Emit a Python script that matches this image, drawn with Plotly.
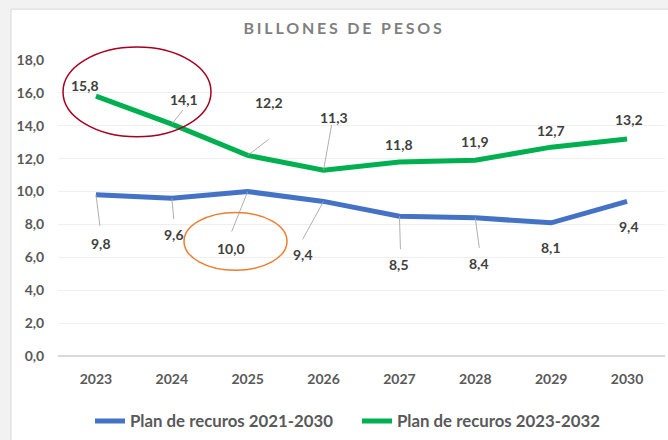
import plotly.graph_objects as go

# ---- data ----
years = ["2023", "2024", "2025", "2026", "2027", "2028", "2029", "2030"]
plan_2021_2030 = [9.8, 9.6, 10.0, 9.4, 8.5, 8.4, 8.1, 9.4]
plan_2023_2032 = [15.8, 14.1, 12.2, 11.3, 11.8, 11.9, 12.7, 13.2]
y_ticks = [0, 2, 4, 6, 8, 10, 12, 14, 16, 18]
y_tick_labels = ["0,0", "2,0", "4,0", "6,0", "8,0", "10,0", "12,0", "14,0", "16,0", "18,0"]
title_text = "BILLONES DE PESOS"
name_blue = "Plan de recuros 2021-2030"
name_green = "Plan de recuros 2023-2032"

BLUE = "#4472C4"
GREEN = "#00B050"
FONT = "Lato"
LABEL_COLOR = "#404040"
TICK_COLOR = "#595959"
LEADER = "#a6a6a6"

# plot-area geometry in pixels
L, R, T, B = 58, 3, 60, 83
W, H = 668, 440
PW, PH = W - L - R, H - T - B

def px2paper(px, py):
    return (px - L) / PW, (H - B - py) / PH

# label offsets (pixels) and leader line offsets (None = no leader)
green_lbl = [(-11, -11), (12, -25), (21, -53), (10, -53), (0, -17), (0, -19), (0, -17), (2, -19)]
green_lead = [None, (11, -14), (21, -16), (8, -45), None, None, None, None]
blue_lbl = [(5, 49), (2, 36), (-17, 57), (-21, 53), (0, 48), (4, 46), (0, 25), (2, 25)]
blue_lead = [(4, 31), (2, 21), (-16, 40), (-21, 38), (1, 33), (4, 30), None, None]

fig = go.Figure()
fig.add_trace(go.Scatter(x=years, y=plan_2021_2030, mode="lines", name=name_blue,
                         line=dict(color=BLUE, width=5), cliponaxis=False))
fig.add_trace(go.Scatter(x=years, y=plan_2023_2032, mode="lines", name=name_green,
                         line=dict(color=GREEN, width=5), cliponaxis=False))

annotations = []
shapes = []

def add_labels(vals, lbl, lead):
    for i, v in enumerate(vals):
        dx, dy = lbl[i]
        annotations.append(dict(x=i, y=v, xref="x", yref="y",
                                text=f"{v:.1f}".replace(".", ","), showarrow=False,
                                xshift=dx, yshift=-dy,
                                font=dict(family=FONT, size=14, color=LABEL_COLOR, weight="bold")))
        if lead[i] is not None:
            ax, ay = lead[i]
            shapes.append(dict(type="line", xref="x", yref="y",
                               xsizemode="pixel", ysizemode="pixel",
                               xanchor=i, yanchor=v, x0=0, y0=0, x1=ax, y1=-ay,
                               line=dict(color=LEADER, width=0.9), layer="above"))

add_labels(plan_2023_2032, green_lbl, green_lead)
add_labels(plan_2021_2030, blue_lbl, blue_lead)

fx0, fy1 = px2paper(11, 9)
shapes.insert(0, dict(type="rect", xref="paper", yref="paper", x0=fx0, x1=1.3, y0=-0.6, y1=fy1,
                      fillcolor="white", line=dict(color="#d9d9d9", width=1), layer="below"))

for (x0, y0, x1, y1, col) in [(63, 47, 211, 137, "#A50021"), (184, 213, 287, 271, "#ED7D31")]:
    a0, b0 = px2paper(x0, y1)
    a1, b1 = px2paper(x1, y0)
    shapes.append(dict(type="circle", xref="paper", yref="paper", x0=a0, x1=a1, y0=b0, y1=b1,
                       line=dict(color=col, width=1.5), layer="above"))

lx, ly = px2paper(90, 421)

fig.update_layout(
    width=W, height=H,
    margin=dict(l=L, r=R, t=T, b=B),
    paper_bgcolor="#f2f2f2",
    plot_bgcolor="rgba(0,0,0,0)",
    font=dict(family=FONT, color=TICK_COLOR),
    title=dict(text=f'<span style="letter-spacing:2.8px">{title_text}</span>',
               x=344 / W, xanchor="center",
               y=1 - 28 / H, yanchor="middle",
               font=dict(family=FONT, size=16, color="#7f7f7f", weight="bold")),
    showlegend=True,
    legend=dict(orientation="h", x=lx, xanchor="left", y=ly, yanchor="middle",
                font=dict(family=FONT, size=16.8, color=TICK_COLOR, weight="bold"),
                bgcolor="rgba(0,0,0,0)", itemwidth=30,
                entrywidth=222, entrywidthmode="pixels"),
    xaxis=dict(type="category", range=[-0.5, 7.5], showgrid=False, zeroline=False,
               showline=False, ticks="outside", ticklen=10, tickcolor="rgba(0,0,0,0)",
               automargin=False,
               tickfont=dict(family=FONT, size=14, color=TICK_COLOR, weight="bold")),
    yaxis=dict(range=[0, 18], tickvals=y_ticks, ticktext=y_tick_labels,
               showgrid=True, gridcolor="#efefef", gridwidth=1,
               zeroline=True, zerolinecolor="#d9d9d9", zerolinewidth=1.5,
               showline=False, ticks="outside", ticklen=10, tickcolor="rgba(0,0,0,0)",
               automargin=False,
               tickfont=dict(family=FONT, size=14, color=TICK_COLOR, weight="bold")),
    shapes=shapes,
    annotations=annotations,
)

fig.write_html("out.html", config={"displayModeBar": False},
               post_script="document.body.style.margin='0';document.body.style.background='#f2f2f2';")
